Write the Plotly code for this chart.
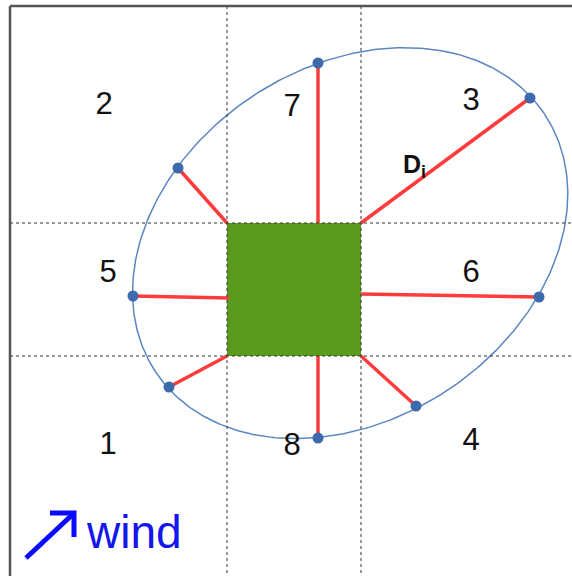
import numpy as np
import plotly.graph_objects as go

W, H = 572, 576

# grid / square geometry (pixel-like units)
grid_x = [227, 361]
grid_y = [223, 356]

# ray start points on the square and end points on the ellipse
ray_start_x = [318, 361, 227, 229, 361, 227, 361, 318]
ray_start_y = [223, 223, 223, 298, 294, 356, 356, 356]
ray_end_x = [318, 530, 178, 133, 539, 169, 416, 318]
ray_end_y = [63, 98, 168, 296, 297, 387, 406, 438]

# extra outline points of the ellipse (top, right, left, bottom)
outline_x = [407, 568, 131, 300]
outline_y = [47, 195, 290, 440]

# sector labels
label_text = ["2", "7", "3", "5", "6", "1", "8", "4"]
label_x = [104, 292, 471, 108, 471, 108, 292, 471]
label_y = [106, 108, 102, 274, 274, 446, 447, 442]

# wind arrow (shaft and chevron head)
arrow_shaft_x = [26, 72]
arrow_shaft_y = [558, 515]
arrow_head_x = [50, 74, 74]
arrow_head_y = [513, 513, 537]

# fit ellipse through marker points + outline points
px = np.array(ray_end_x + outline_x, float)
py = np.array(ray_end_y + outline_y, float)
mx, my = px.mean(), py.mean()
u, v = px - mx, py - my
Amat = np.column_stack([u * u, u * v, v * v, u, v])
A, B, C, D, E = np.linalg.lstsq(Amat, np.ones_like(u), rcond=None)[0]
F = -1.0
c0 = np.linalg.solve([[2 * A, B], [B, 2 * C]], [-D, -E])
Fc = A * c0[0] ** 2 + B * c0[0] * c0[1] + C * c0[1] ** 2 + D * c0[0] + E * c0[1] + F
M = np.array([[A, B / 2], [B / 2, C]])
lam, V = np.linalg.eigh(M)
axes = np.sqrt(-Fc / lam)
t = np.linspace(0, 2 * np.pi, 400)
pts = V @ np.vstack([axes[0] * np.cos(t), axes[1] * np.sin(t)])
ex = pts[0] + c0[0] + mx
ey = pts[1] + c0[1] + my

fig = go.Figure()

# green square
fig.add_shape(type="rect", x0=grid_x[0], x1=grid_x[1], y0=grid_y[0], y1=grid_y[1],
              fillcolor="#5a9a1e", line=dict(width=0), layer="below")

# dotted grid lines
for gx in grid_x:
    fig.add_shape(type="line", x0=gx, x1=gx, y0=6, y1=H,
                  line=dict(color="#333333", width=1, dash="dot"))
for gy in grid_y:
    fig.add_shape(type="line", x0=10, x1=W, y0=gy, y1=gy,
                  line=dict(color="#333333", width=1, dash="dot"))

# frame (top and left)
fig.add_shape(type="line", x0=10, x1=W, y0=6, y1=6, line=dict(color="#555555", width=2.5))
fig.add_shape(type="line", x0=10, x1=10, y0=6, y1=H, line=dict(color="#555555", width=2.5))

# ellipse
fig.add_trace(go.Scatter(x=ex, y=ey, mode="lines",
                         line=dict(color="#5b86c0", width=1.5), hoverinfo="skip"))

# red rays
for sx, sy, tx, ty in zip(ray_start_x, ray_start_y, ray_end_x, ray_end_y):
    fig.add_trace(go.Scatter(x=[sx, tx], y=[sy, ty], mode="lines",
                             line=dict(color="#ff3b3b", width=3.5), hoverinfo="skip"))

# markers
fig.add_trace(go.Scatter(x=ray_end_x, y=ray_end_y, mode="markers",
                         marker=dict(color="#3d6aad", size=11), hoverinfo="skip"))

# labels
fig.add_trace(go.Scatter(x=label_x, y=label_y, mode="text", text=label_text,
                         textfont=dict(family="Liberation Sans, Arial", size=31, color="#111111"),
                         hoverinfo="skip"))

# Di label
fig.add_annotation(x=414, y=166, text="<b>D<sub>i</sub></b>", showarrow=False,
                   font=dict(family="Liberation Sans, Arial", size=25, color="#111111"))

# wind arrow + text
fig.add_trace(go.Scatter(x=arrow_shaft_x, y=arrow_shaft_y, mode="lines",
                         line=dict(color="#0a0aff", width=5), hoverinfo="skip"))
fig.add_trace(go.Scatter(x=arrow_head_x, y=arrow_head_y, mode="lines",
                         line=dict(color="#0a0aff", width=5), hoverinfo="skip"))
fig.add_annotation(x=134, y=532, text="wind", showarrow=False,
                   font=dict(family="Liberation Sans, Arial", size=46, color="#1515ee"))

fig.update_layout(width=W, height=H, margin=dict(l=0, r=0, t=0, b=0),
                  paper_bgcolor="white", plot_bgcolor="white", showlegend=False,
                  xaxis=dict(range=[0, W], visible=False, fixedrange=True),
                  yaxis=dict(range=[H, 0], visible=False, fixedrange=True))

fig.write_html("out.html", config={"displayModeBar": False},
               post_script="document.body.style.margin='0';document.body.style.overflow='hidden';")
